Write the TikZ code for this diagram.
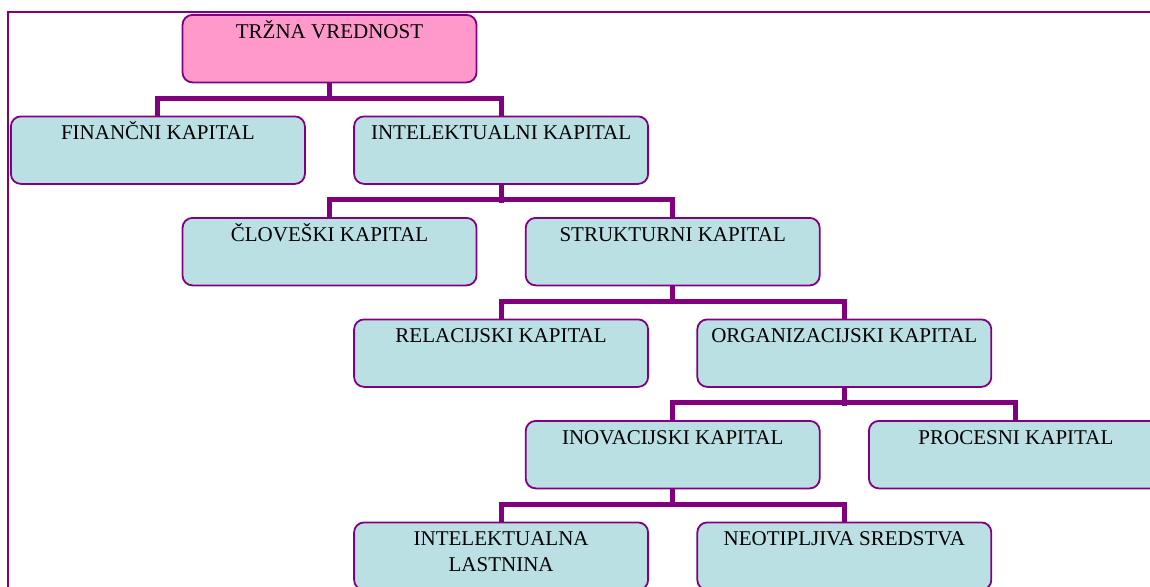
\documentclass[tikz,border=0pt]{standalone}
\usepackage{fontspec}
\setmainfont{Liberation Serif}
\usetikzlibrary{calc}
\pgfdeclarelayer{background}
\pgfsetlayers{background,main}
\definecolor{linkpurple}{HTML}{800080}
\definecolor{boxblue}{HTML}{BBE0E3}
\definecolor{boxpink}{HTML}{FF99CC}
\tikzset{
  capbox/.style={draw=linkpurple, line width=1.8pt, fill=boxblue,
    rounded corners=10pt, minimum width=294pt, minimum height=67.5pt,
    inner sep=0pt, anchor=north west},
  rootbox/.style={capbox, fill=boxpink},
  boxtext/.style={font=\fontsize{21}{26}\selectfont, align=center, anchor=base, yshift=-24pt},
  conn/.style={draw=linkpurple, line width=5pt, line join=miter}
}
% box with its caption: [caption baseline shift] style, name, x, y, text
\newcommand{\capnode}[6][-24pt]{%
  \node[#2] (#3) at (#4,#5) {};
  \node[boxtext, yshift=#1+24pt] (#3-t) at (#3.north) {#6};
}
\begin{document}
\begin{tikzpicture}[x=1pt, y=-1pt]
\useasboundingbox (0,0) rectangle (1150,586);
\clip (0,0) rectangle (1150,586);
% outer frame
\draw[linkpurple, line width=1.5pt] (8,12) rectangle (1300,800);

% boxes
\capnode{rootbox}{tv}{181.6}{14}{TRŽNA VREDNOST}
\capnode{capbox}{fk}{10}{115.5}{FINANČNI KAPITAL}
\capnode{capbox}{ik}{353.2}{115.5}{INTELEKTUALNI KAPITAL}
\capnode{capbox}{ck}{181.6}{217}{ČLOVEŠKI KAPITAL}
\capnode{capbox}{sk}{524.8}{217}{STRUKTURNI KAPITAL}
\capnode{capbox}{rk}{353.2}{318.5}{RELACIJSKI KAPITAL}
\capnode{capbox}{ok}{696.4}{318.5}{ORGANIZACIJSKI KAPITAL}
\capnode{capbox}{nk}{524.8}{420}{INOVACIJSKI KAPITAL}
\capnode{capbox}{pk}{868}{420}{PROCESNI KAPITAL}
\capnode[-50pt]{capbox}{il}{353.2}{521.5}{INTELEKTUALNA\\LASTNINA}
\capnode{capbox}{ns}{696.4}{521.5}{NEOTIPLJIVA SREDSTVA}

% connectors: stem from parent, bus, drops into both children
\begin{pgfonlayer}{background}
\foreach \p/\a/\b in {tv/fk/ik, ik/ck/sk, sk/rk/ok, ok/nk/pk, nk/il/ns}{
  \draw[conn] (\p.south) -- ($(\p.south)+(0,18)$);
  \draw[conn] (\a.north) -- ++(0,-17.5) -| (\b.north);
}
\end{pgfonlayer}
\end{tikzpicture}
\end{document}
